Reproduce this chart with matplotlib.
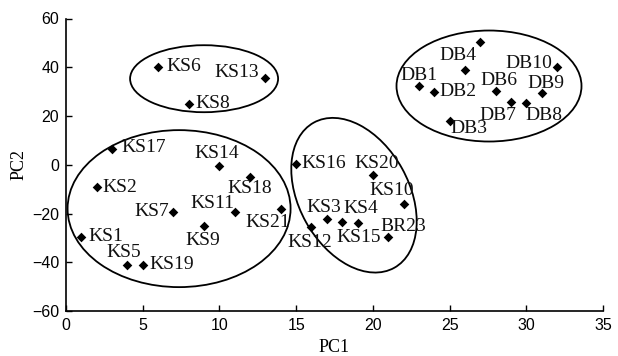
import matplotlib
matplotlib.use("Agg")
import matplotlib.pyplot as plt
from matplotlib.patches import Ellipse
from matplotlib.transforms import Affine2D, ScaledTranslation

plt.rcParams["font.family"] = ["Liberation Sans", "DejaVu Sans"]

# ---- data ----
names = ["KS1", "KS2", "KS5", "KS7", "KS9", "KS11", "KS14", "KS17", "KS18", "KS19", "KS21",
         "KS6", "KS8", "KS13",
         "KS3", "KS4", "KS10", "KS12", "KS15", "KS16", "KS20", "BR23",
         "DB1", "DB2", "DB3", "DB4", "DB5", "DB6", "DB7", "DB8", "DB9", "DB10"]
pc1 = [1, 2, 4, 7, 9, 11, 10, 3, 12, 5, 14,
       6, 8, 13,
       17, 19, 22, 16, 18, 15, 20, 21,
       23, 24, 25, 26, 27, 28, 29, 30, 31, 32]
pc2 = [-29.7, -9.2, -41, -19.5, -25.2, -19.5, -0.5, 6.5, -5, -41, -18.2,
       40.3, 25, 35.5,
       -22.3, -24.1, -16.3, -25.5, -23.4, 0.5, -4, -29.8,
       32.3, 29.8, 18, 39, 50.3, 30.2, 25.6, 25.3, 29.4, 40]

# label offsets (pixels, y up) of label centre relative to marker; None = unlabeled
label_offsets = {
    "KS1": (24, 1), "KS2": (23, 0), "KS5": (-4, 12), "KS7": (-22, 1), "KS9": (-1, -14),
    "KS11": (-22, 9), "KS14": (-3, 12), "KS17": (32, 1), "KS18": (0, -12), "KS19": (29, 0),
    "KS21": (-13, -13), "KS6": (26, 0), "KS8": (24, 0), "KS13": (-29, 6),
    "KS3": (-3, 12), "KS4": (3, 15), "KS10": (-12, 14), "KS12": (-2, -16), "KS15": (16, -16),
    "KS16": (28, 0), "KS20": (4, 11), "BR23": (15, 11),
    "DB1": (0, 11), "DB2": (24, 1), "DB3": (19, -8), "DB4": (-7, 14), "DB5": None,
    "DB6": (3, 11), "DB7": (-13, -13), "DB8": (18, -12), "DB9": (4, 10), "DB10": (-28, 4),
}

# cluster ellipses: centre (data), width/height (pixels), angle (deg)
ell_centers = [(7.37, -18.0), (9.0, 35.3), (18.77, -12.5), (27.57, 32.3)]
ell_sizes = [(223, 157, 0), (148, 67, 0), (166, 110, 119), (185, 111, 0)]

x_ticks = [0, 5, 10, 15, 20, 25, 30, 35]
y_ticks = [-60, -40, -20, 0, 20, 40, 60]

# ---- plot ----
DPI = 100
fig = plt.figure(figsize=(6.18, 3.56), dpi=DPI)
ax = fig.add_axes([66 / 618, 45 / 356, (603 - 66) / 618, (311 - 18.5) / 356])

ax.scatter(pc1, pc2, marker="D", s=24, color="black", zorder=3, linewidths=0)

serif = ["Liberation Serif", "DejaVu Serif"]
for n, x, y in zip(names, pc1, pc2):
    off = label_offsets.get(n)
    if off is None:
        continue
    ax.annotate(n, (x, y), xytext=off, textcoords="offset pixels",
                ha="center", va="center", fontsize=14, family=serif, color="#111111")

for (cx, cy), (w, h, ang) in zip(ell_centers, ell_sizes):
    tr = Affine2D().scale(fig.dpi / DPI) + ScaledTranslation(cx, cy, ax.transData)
    e = Ellipse((0, 0), w, h, angle=ang, transform=tr, fill=False,
                edgecolor="black", linewidth=1.3, zorder=2)
    ax.add_patch(e)

ax.set_xlim(0, 35)
ax.set_ylim(-60, 60)
ax.set_xticks(x_ticks)
ax.set_yticks(y_ticks)
ax.tick_params(direction="in", length=4, width=1, labelsize=11.5, pad=5)
for s in ["top", "right"]:
    ax.spines[s].set_visible(False)
for s in ["left", "bottom"]:
    ax.spines[s].set_linewidth(1.2)

ax.set_xlabel("PC1", family=serif, fontsize=13, labelpad=4)
ax.set_ylabel("PC2", family=serif, fontsize=13, labelpad=3)

fig.savefig("out.png", dpi=DPI)
